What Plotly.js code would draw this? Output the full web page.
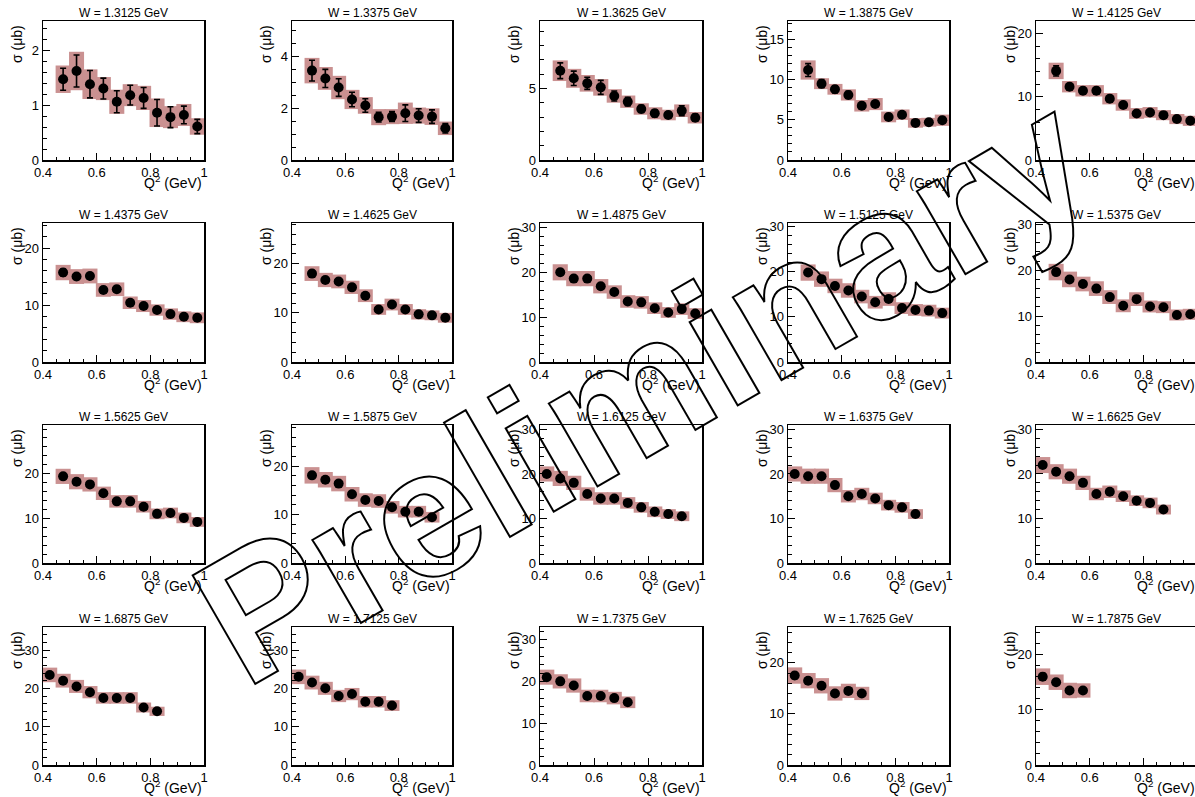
<!DOCTYPE html>
<html><head><meta charset="utf-8">
<script src="https://cdn.plot.ly/plotly-3.0.1.min.js"></script>
<style>html,body{margin:0;padding:0;background:#fff;overflow:hidden}#chart{width:1195px;height:797px}</style>
</head><body><div id="chart"></div>
<script>
// ---- data ----
const W_LABELS = ['1.3125','1.3375','1.3625','1.3875','1.4125','1.4375','1.4625','1.4875','1.5125','1.5375',
                  '1.5625','1.5875','1.6125','1.6375','1.6625','1.6875','1.7125','1.7375','1.7625','1.7875'];
const Q2_A = [0.475,0.525,0.575,0.625,0.675,0.725,0.775,0.825,0.875,0.925,0.975];
const Q2_B = [0.425,0.475,0.525,0.575,0.625,0.675,0.725,0.775,0.825,0.875,0.925];

const sig01 = [1.47,1.62,1.38,1.30,1.06,1.18,1.13,0.86,0.78,0.82,0.61];
const stat01 = [0.20,0.29,0.25,0.19,0.20,0.18,0.19,0.24,0.19,0.16,0.13];
const sys01 = [0.25,0.35,0.27,0.21,0.22,0.20,0.22,0.26,0.20,0.20,0.15];

const sig02 = [3.44,3.14,2.79,2.33,2.10,1.65,1.67,1.80,1.71,1.67,1.22];
const stat02 = [0.40,0.35,0.34,0.28,0.26,0.19,0.19,0.32,0.26,0.26,0.18];
const sys02 = [0.49,0.44,0.45,0.37,0.32,0.31,0.29,0.41,0.31,0.32,0.26];

const sig03 = [6.23,5.70,5.35,5.07,4.47,4.07,3.56,3.26,3.14,3.44,2.95];
const stat03 = [0.55,0.50,0.42,0.49,0.35,0.30,0.25,0.25,0.22,0.35,0.25];
const sys03 = [0.72,0.66,0.58,0.58,0.47,0.43,0.40,0.42,0.37,0.44,0.40];

const sig04 = [11.2,9.5,8.8,8.1,6.75,6.96,5.36,5.64,4.62,4.70,4.95];
const stat04 = [0.8,0.5,0.45,0.45,0.4,0.4,0.35,0.35,0.3,0.3,0.35];
const sys04 = [1.2,0.68,0.67,0.7,0.72,0.75,0.67,0.65,0.6,0.55,0.7];

const sig05 = [14.1,11.6,10.95,10.95,9.7,8.7,7.37,7.53,7.1,6.48,6.2];
const stat05 = [0.8,0.5,0.5,0.5,0.5,0.5,0.4,0.4,0.4,0.4,0.4];
const sys05 = [1.3,0.9,0.9,0.9,0.9,0.9,0.85,0.85,0.8,0.8,0.8];

const sig06 = [15.7,15.0,15.1,12.65,12.77,10.4,9.82,9.12,8.41,7.94,7.76];
const stat06 = [0.6,0.5,0.5,0.5,0.5,0.4,0.4,0.4,0.4,0.4,0.4];
const sys06 = [1.35,1.3,1.3,1.2,1.2,1.1,1.05,1.0,1.0,0.95,0.95];

const sig07 = [18.0,16.7,16.4,15.2,13.5,10.7,11.7,10.7,9.7,9.5,9.0];
const stat07 = [0.6,0.5,0.5,0.5,0.5,0.4,0.4,0.4,0.4,0.4,0.4];
const sys07 = [1.5,1.45,1.4,1.35,1.3,1.1,1.2,1.1,1.05,1.0,1.0];

const sig08 = [20.0,18.6,18.6,16.9,15.6,13.5,13.3,12.0,11.05,11.8,10.8];
const stat08 = [0.6,0.5,0.5,0.5,0.5,0.4,0.4,0.4,0.4,0.4,0.4];
const sys08 = [1.8,1.7,1.7,1.6,1.5,1.4,1.4,1.3,1.2,1.3,1.2];

const sig09 = [19.75,18.3,16.8,15.8,14.45,13.2,13.9,11.9,11.5,11.35,10.8];
const stat09 = [0.6,0.5,0.5,0.5,0.5,0.4,0.4,0.4,0.4,0.4,0.4];
const sys09 = [1.8,1.7,1.6,1.6,1.5,1.4,1.5,1.3,1.3,1.3,1.2];

const sig10 = [19.6,18.0,17.0,16.0,14.15,12.25,13.7,12.1,11.95,10.25,10.4];
const stat10 = [0.6,0.5,0.5,0.5,0.5,0.4,0.4,0.4,0.4,0.4,0.4];
const sys10 = [1.8,1.7,1.6,1.6,1.5,1.4,1.5,1.3,1.3,1.2,1.2];

const sig11 = [19.4,18.2,17.6,15.6,13.8,13.8,12.6,11.0,11.2,10.1,9.2];
const stat11 = [0.6,0.5,0.5,0.5,0.5,0.4,0.4,0.4,0.4,0.4,0.4];
const sys11 = [1.7,1.7,1.6,1.5,1.4,1.4,1.3,1.2,1.2,1.2,1.1];

const sig12 = [18.1,17.2,16.4,14.2,13.0,12.8,11.5,10.6,10.6,9.45];
const stat12 = [0.6,0.5,0.5,0.5,0.5,0.4,0.4,0.4,0.4,0.4];
const sys12 = [1.7,1.6,1.6,1.5,1.4,1.4,1.3,1.2,1.2,1.1];

const sig13 = [20.0,19.0,18.0,15.5,14.5,14.5,13.5,12.5,11.5,11.0,10.5];
const stat13 = [0.6,0.5,0.5,0.5,0.5,0.4,0.4,0.4,0.4,0.4,0.4];
const sys13 = [1.7,1.7,1.6,1.5,1.4,1.4,1.3,1.2,1.2,1.1,1.1];

const sig14 = [20.0,19.5,19.5,17.5,15.0,15.5,14.5,13.0,12.5,11.0];
const stat14 = [0.6,0.5,0.5,0.5,0.5,0.4,0.4,0.4,0.4,0.4];
const sys14 = [1.7,1.7,1.7,1.6,1.4,1.4,1.3,1.2,1.2,1.1];

const sig15 = [22.0,20.5,19.5,18.0,15.5,16.0,15.0,14.0,13.5,12.0];
const stat15 = [0.6,0.5,0.5,0.5,0.5,0.4,0.4,0.4,0.4,0.4];
const sys15 = [1.8,1.7,1.7,1.6,1.4,1.4,1.3,1.2,1.2,1.1];

const sig16 = [23.5,22.0,20.5,19.0,17.5,17.5,17.5,15.0,14.0];
const stat16 = [0.6,0.5,0.5,0.5,0.5,0.4,0.4,0.4,0.4];
const sys16 = [1.9,1.8,1.7,1.6,1.5,1.5,1.5,1.3,1.2];

const sig17 = [23.0,21.5,20.0,18.0,18.5,16.5,16.5,15.5];
const stat17 = [0.6,0.5,0.5,0.5,0.5,0.4,0.4,0.4];
const sys17 = [1.9,1.8,1.7,1.6,1.6,1.5,1.5,1.4];

const sig18 = [21.0,20.0,19.0,16.5,16.5,16.0,15.0];
const stat18 = [0.6,0.5,0.5,0.5,0.5,0.4,0.4];
const sys18 = [1.8,1.7,1.7,1.5,1.5,1.5,1.4];

const sig19 = [17.5,16.5,15.5,14.0,14.5,14.0];
const stat19 = [0.6,0.5,0.5,0.5,0.5,0.4];
const sys19 = [1.6,1.5,1.5,1.4,1.4,1.3];

const sig20 = [16.0,15.0,13.5,13.5];
const stat20 = [0.6,0.5,0.5,0.5];
const sys20 = [1.5,1.4,1.4,1.3];

const Y_MAX = [2.53,5.35,9.7,17.3,22.0,24.4,28.3,31.0,30.7,30.3,30.9,28.5,31.0,31.0,31.0,36.0,36.0,33.0,27.0,25.0];
const Y_TICKS = [[0,1,2],[0,2,4],[0,5],[0,5,10,15],[0,10,20],[0,10,20],[0,10,20],[0,10,20,30],[0,10,20,30],[0,10,20,30],
                 [0,10,20],[0,10,20],[0,10,20,30],[0,10,20,30],[0,10,20,30],[0,10,20,30],[0,10,20,30],[0,10,20,30],[0,10,20],[0,10,20]];
const Y_MINOR = [0.2,0.5,1,1,2,2,2,2,2,2,2,2,2,2,2,2,2,2,2,2];

const SIGMAS = [sig01,sig02,sig03,sig04,sig05,sig06,sig07,sig08,sig09,sig10,sig11,sig12,sig13,sig14,sig15,sig16,sig17,sig18,sig19,sig20];
const STATS = [stat01,stat02,stat03,stat04,stat05,stat06,stat07,stat08,stat09,stat10,stat11,stat12,stat13,stat14,stat15,stat16,stat17,stat18,stat19,stat20];
const SYSS = [sys01,sys02,sys03,sys04,sys05,sys06,sys07,sys08,sys09,sys10,sys11,sys12,sys13,sys14,sys15,sys16,sys17,sys18,sys19,sys20];

// ---- layout geometry (pixels) ----
const FW = 1195, FH = 797;
const COL_L = [43, 292, 540, 788, 1036];
const COL_R = [204, 452, 702, 949, 1197];
const ROW_T = [21, 223, 425, 627];
const ROW_B = [160, 362, 563, 765];
const FONT = 'Liberation Sans, Arial, Helvetica, sans-serif';
const PINK = 'rgb(202,145,145)';

const traces = [];
const layout = {
  width: FW, height: FH, margin: {l:0, r:0, t:0, b:0},
  paper_bgcolor: '#fff', plot_bgcolor: '#fff', showlegend: false,
  barmode: 'overlay', font: {family: FONT, color: '#000'},
  annotations: []
};
const px = v => v / FW, py = v => 1 - v / FH;

for (let k = 0; k < 20; k++) {
  const r = Math.floor(k / 5), c = k % 5;
  const suf = k === 0 ? '' : String(k + 1);
  const xa = 'x' + suf, ya = 'y' + suf;
  const q = (k < 12 ? Q2_A : Q2_B).slice(0, SIGMAS[k].length);
  const sig = SIGMAS[k], st = STATS[k], sy = SYSS[k];
  traces.push({type:'bar', x:q, y:sy.map(s => 2*s), base:sig.map((v,i) => v - sy[i]), width:0.056,
    marker:{color:PINK, line:{width:0}}, xaxis:xa, yaxis:ya, hoverinfo:'skip'});
  traces.push({type:'scatter', mode:'markers', x:q, y:sig,
    error_y:{type:'data', array:st, visible:true, color:'#000', thickness:1.6, width:3},
    marker:{color:'#000', size:10}, xaxis:xa, yaxis:ya, cliponaxis:false});

  const L = COL_L[c], R = Math.min(COL_R[c], FW);
  const xEnd = 0.4 + 0.6 * (R - COL_L[c]) / (COL_R[c] - COL_L[c]);
  layout['xaxis' + suf] = {
    domain:[px(L), px(R)], range:[0.4, xEnd], anchor:ya,
    tickmode:'linear', tick0:0.4, dtick:0.2, ticks:'inside', ticklen:7, tickwidth:1, tickcolor:'#000',
    minor:{tickmode:'linear', tick0:0.4, dtick:0.05, ticks:'inside', ticklen:3.5, tickcolor:'#000', showgrid:false},
    showline:true, linecolor:'#000', linewidth:1.5, mirror:true, showgrid:false, zeroline:false,
    tickfont:{size:13, family:FONT, color:'#000'}, fixedrange:true
  };
  layout['yaxis' + suf] = {
    domain:[py(ROW_B[r]), py(ROW_T[r])], range:[0, Y_MAX[k]], anchor:xa,
    tickmode:'array', tickvals:Y_TICKS[k], ticks:'inside', ticklen:7, tickwidth:1, tickcolor:'#000',
    minor:{tickmode:'linear', tick0:0, dtick:Y_MINOR[k], ticks:'inside', ticklen:3.5, tickcolor:'#000', showgrid:false},
    showline:true, linecolor:'#000', linewidth:1.5, mirror:true, showgrid:false, zeroline:false,
    tickfont:{size:13, family:FONT, color:'#000'}, fixedrange:true
  };
  layout.annotations.push({xref:'paper', yref:'paper', x:px((COL_L[c] + COL_R[c]) / 2), y:py(ROW_T[r] - 8),
    xanchor:'center', yanchor:'middle', showarrow:false, text:'W = ' + W_LABELS[k] + ' GeV',
    font:{size:12, family:FONT, color:'#000'}});
  layout.annotations.push({xref:'paper', yref:'paper', x:px(COL_R[c]), y:py(ROW_B[r] + 22),
    xanchor:'right', yanchor:'middle', showarrow:false, text:'Q<sup>2</sup> (GeV)',
    font:{size:14, family:FONT, color:'#000'}});
  layout.annotations.push({xref:'paper', yref:'paper', x:px(COL_L[c] - 26), y:py(ROW_T[r] + 2),
    xanchor:'center', yanchor:'top', showarrow:false, text:'σ (μb)', textangle:-90,
    font:{size:14, family:FONT, color:'#000'}});
}

// watermark
layout.annotations.push({xref:'paper', yref:'paper', x:px(642), y:py(388), xanchor:'center', yanchor:'middle',
  showarrow:false, text:'Preliminary', textangle:-30,
  font:{size:182, family:FONT, color:'#000', weight:'bold'}});

Plotly.newPlot('chart', traces, layout, {staticPlot:true, displayModeBar:false}).then(() => {
  document.querySelectorAll('.annotation-text').forEach(t => {
    if (t.textContent === 'Preliminary') {
      t.style.setProperty('fill', 'none');
      t.style.setProperty('stroke', '#000');
      t.style.setProperty('stroke-width', '2px');
    }
  });
});
</script></body></html>
